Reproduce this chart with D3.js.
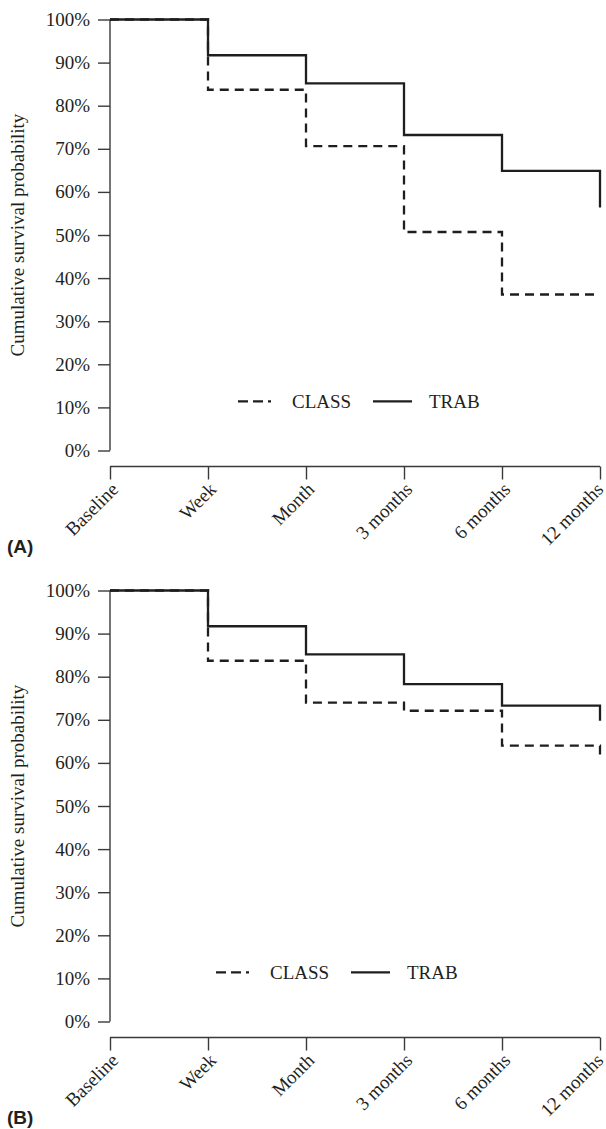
<!DOCTYPE html>
<html>
<head>
<meta charset="UTF-8">
<title>Cumulative survival</title>
<style>
  body { margin: 0; background: #fff; }
  svg { display: block; }
  .tick text, .lbl { font-family: "Liberation Serif", "Times New Roman", serif; font-size: 19px; fill: #231f20; }
  .domain, .tick line { stroke: #3a3a3a; stroke-width: 1.4px; }
  .panel-tag { font-family: "Liberation Sans", Arial, sans-serif; font-weight: bold; font-size: 19px; fill: #231f20; }
</style>
</head>
<body>
<script src="https://d3js.org/d3.v7.min.js"></script>
<script>
var timepoints = ["Baseline", "Week", "Month", "3 months", "6 months", "12 months"];
var yTicks = [0, 10, 20, 30, 40, 50, 60, 70, 80, 90, 100];

// panel A
var trabA  = [100, 91.7, 85.2, 73.2, 64.9, 56.4];
var classA = [100, 83.7, 70.6, 50.7, 36.2, 36.2];
// panel B
var trabB  = [100, 91.7, 85.2, 78.3, 73.3, 69.8];
var classB = [100, 83.7, 74.0, 72.1, 64.0, 60.8];

var width = 606, height = 1129;
var svg = d3.select("body").append("svg")
    .attr("width", width)
    .attr("height", height);

var x = d3.scalePoint()
    .domain(timepoints)
    .range([110, 600]);

function drawPanel(top, tag, trab, cls, legendX) {
    var g = svg.append("g").attr("transform", "translate(0," + top + ")");
    var plotH = 431;
    var y = d3.scaleLinear().domain([0, 100]).range([plotH, 0]);

    // y axis
    g.append("g")
        .attr("transform", "translate(110,0)")
        .call(d3.axisLeft(y).tickValues(yTicks).tickSize(12).tickPadding(8)
            .tickFormat(function(d) { return d + "%"; }))
        .call(function(a) { a.select(".domain").attr("d", "M0," + y(100) + "V" + y(0)); });

    // x axis, offset below the plot
    var xa = g.append("g")
        .attr("transform", "translate(0," + (plotH + 16) + ")")
        .call(d3.axisBottom(x).tickSize(13).tickSizeOuter(0));
    xa.select(".domain").attr("d", "M" + x.range()[0] + ",0H" + x.range()[1]);
    xa.selectAll(".tick text")
        .attr("text-anchor", "end")
        .attr("dy", null)
        .attr("y", null)
        .attr("transform", function(d, i) {
            // last label sits at the right edge, keep it inside the page
            var dx = i === timepoints.length - 1 ? 4 : 9;
            return "translate(" + dx + ",24) rotate(-45)";
        });

    g.append("text")
        .attr("class", "lbl")
        .attr("text-anchor", "middle")
        .attr("transform", "translate(24," + y(50) + ") rotate(-90)")
        .text("Cumulative survival probability");

    var line = d3.line()
        .x(function(d, i) { return x(timepoints[i]); })
        .y(function(d) { return y(d); })
        .curve(d3.curveStepAfter);

    // step-after leaves the last drop out, add it by hand at the last time point
    function stepPath(vals) {
        var p = line(vals.slice(0, -1));
        return p + "H" + x(timepoints[timepoints.length - 1]) + "V" + y(vals[vals.length - 1]);
    }

    g.append("path")
        .attr("d", stepPath(cls))
        .attr("fill", "none")
        .attr("stroke", "#1e1e1e")
        .attr("stroke-width", 2.3)
        .attr("stroke-dasharray", "9,6");

    g.append("path")
        .attr("d", stepPath(trab))
        .attr("fill", "none")
        .attr("stroke", "#1e1e1e")
        .attr("stroke-width", 2.3);

    // legend
    var ly = y(11.4);
    var lg = g.append("g").attr("transform", "translate(" + legendX + "," + ly + ")");
    lg.append("line").attr("x1", 0).attr("x2", 33).attr("y1", 0).attr("y2", 0)
        .attr("stroke", "#1e1e1e").attr("stroke-width", 2.3).attr("stroke-dasharray", "10,5");
    lg.append("text").attr("class", "lbl").attr("x", 54).attr("y", 6.5).text("CLASS");
    lg.append("line").attr("x1", 135).attr("x2", 174).attr("y1", 0).attr("y2", 0)
        .attr("stroke", "#1e1e1e").attr("stroke-width", 2.3);
    lg.append("text").attr("class", "lbl").attr("x", 191).attr("y", 6.5).text("TRAB");

    g.append("text")
        .attr("class", "panel-tag")
        .attr("x", 7)
        .attr("y", 533)
        .text(tag);
}

drawPanel(19.5, "(A)", trabA, classA, 238);
drawPanel(590.5, "(B)", trabB, classB, 216);
</script>
</body>
</html>
